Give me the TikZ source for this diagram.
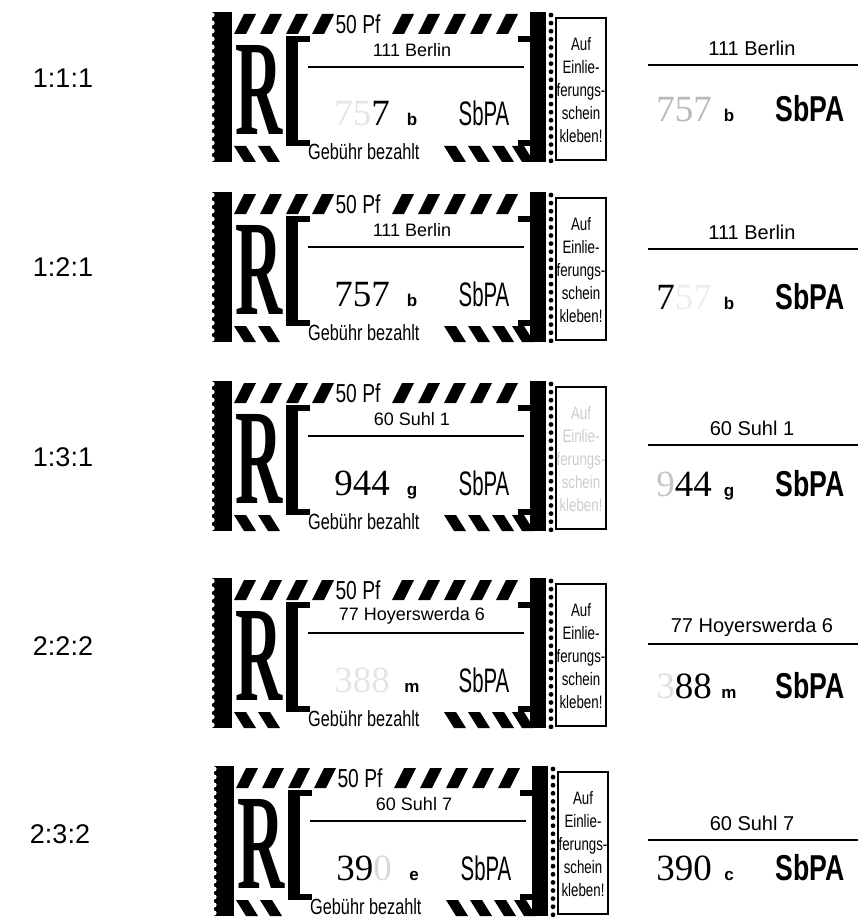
\documentclass[tikz,border=0pt]{standalone}
\usepackage{fontspec}
\usepackage{graphicx}
\setmainfont{Liberation Sans}
\newfontfamily\stampfont[FakeStretch=0.74]{Liberation Sans}
\newfontfamily\narrowfont[FakeStretch=0.6]{Liberation Sans}
\newfontfamily\numfont{Liberation Serif}

\tikzset{
  rowlabel/.style={font=\fontsize{27}{29}\selectfont},
  bigR/.style={font=\numfont\bfseries\fontsize{136}{136}\selectfont, inner sep=0pt},
  price/.style={font=\stampfont\fontsize{26}{27}\selectfont, inner sep=0pt},
  city/.style={font=\fontsize{18}{20}\selectfont, inner sep=0pt},
  copycity/.style={font=\fontsize{20}{22}\selectfont, inner sep=0pt},
  numtxt/.style={font=\numfont\fontsize{37}{39}\selectfont, inner sep=0pt},
  lettr/.style={font=\bfseries\fontsize{17}{18}\selectfont, inner sep=0pt},
  sbpa/.style={font=\narrowfont\fontsize{34}{36}\selectfont, inner sep=0pt},
  copysbpa/.style={font=\stampfont\bfseries\fontsize{36}{38}\selectfont, inner sep=0pt},
  fee/.style={font=\stampfont\fontsize{22}{23}\selectfont, inner sep=0pt},
  auftxt/.style={font=\stampfont\fontsize{18}{23}\selectfont, align=center, inner sep=0pt},
}

% one label: id, x0, y0, city, number, letter, colour of the box text
\newcommand\regstamp[7]{%
  \begin{scope}[shift={(#2,#3)}, name prefix=#1-]
    % left edge and R field
    \fill (0,0) rectangle (20,150);
    \foreach \k in {0,...,18} \fill[white] (0,3+\k*8) circle (2.6);
    \fill[white] (20,24) rectangle (74,128);
    \node[bigR] (R) at (47,78) {\scalebox{0.48}[1]{R}};
    % brackets
    \fill (74,24) rectangle (86,134);
    \fill (74,24) rectangle (98,30);
    \fill (74,128) rectangle (98,134);
    \fill (318,0) rectangle (334,150);
    \fill (306,24) rectangle (318,30);
    \fill (306,128) rectangle (318,134);
    % stripes
    \foreach \s in {22,48,74,100}
      \fill (\s,22) -- (\s+10,2) -- (\s+22,2) -- (\s+12,22) -- cycle;
    \foreach \s in {180,206,232,258,284}
      \fill (\s,22) -- (\s+10,2) -- (\s+22,2) -- (\s+12,22) -- cycle;
    \foreach \s in {22,46}
      \fill (\s,134) -- (\s+12,134) -- (\s+22,150) -- (\s+10,150) -- cycle;
    \foreach \s in {232,256,280,300}
      \fill (\s,134) -- (\s+12,134) -- (\s+22,150) -- (\s+10,150) -- cycle;
    \node[price] (price) at (146,12) {50 Pf};
    \node[city] (city) at (200,38) {#4};
    \draw[line width=1.8] (96,55) -- (312,55);
    \node[numtxt, anchor=base east] (num) at (178,114) {#5};
    \node[lettr, anchor=base] (lettr) at (200,114) {#6};
    \node[sbpa, anchor=base] (sbpa) at (272,114) {SbPA};
    \node[fee, anchor=base west] (fee) at (96,148) {Gebühr bezahlt};
    % perforation and box
    \foreach \k in {0,...,18} \fill (339,3+\k*8.1) circle (2.4);
    \draw[line width=1.3] (344,6) rectangle (394,148);
    \node[auftxt, text=#7] (auf) at (369,78) {Auf\\Einlie-\\ferungs-\\schein\\kleben!};
  \end{scope}}

% the copy on the right: id, y, city, number, letter, base line
\newcommand\regcopy[6]{%
  \begin{scope}[shift={(0,#2)}, name prefix=#1-]
    \node[copycity] (copycity) at (752,0) {#3};
    \draw[line width=1.8] (648,17) -- (858,17);
    \node[numtxt, anchor=base east] (copynum) at (712,#6) {#4};
    \node[lettr, anchor=base] (copylettr) at (729,#6) {#5};
    \node[copysbpa, anchor=base] (copysbpa) at (810,#6) {SbPA};
  \end{scope}}

\begin{document}
\begin{tikzpicture}[x=1pt, y=-1pt]
  \useasboundingbox (0,0) rectangle (865,920);

  \node[rowlabel] (lab1) at (63,78) {1:1:1};
  \node[rowlabel] (lab2) at (63,267) {1:2:1};
  \node[rowlabel] (lab3) at (63,457) {1:3:1};
  \node[rowlabel] (lab4) at (63,646) {2:2:2};
  \node[rowlabel] (lab5) at (60,834) {2:3:2};

  \regstamp{s1}{212}{12}{111 Berlin}{{\color{gray!20}75}7}{b}{black}
  \regstamp{s2}{212}{192}{111 Berlin}{757}{b}{black}
  \regstamp{s3}{212}{381}{60 Suhl 1}{944}{g}{gray!40}
  \regstamp{s4}{212}{578}{77 Hoyerswerda 6}{{\color{gray!20}388}}{m}{black}
  \regstamp{s5}{214}{766}{60 Suhl 7}{39{\color{gray!30}0}}{e}{black}

  \regcopy{c1}{48}{111 Berlin}{{\color{gray!55}757}}{b}{74}
  \regcopy{c2}{232}{111 Berlin}{7{\color{gray!15}57}}{b}{77}
  \regcopy{c3}{428}{60 Suhl 1}{{\color{gray!45}9}44}{g}{68}
  \regcopy{c4}{627}{77 Hoyerswerda 6}{{\color{gray!25}3}88}{m}{71}
  \regcopy{c5}{823}{60 Suhl 7}{390}{c}{57}
\end{tikzpicture}
\end{document}
